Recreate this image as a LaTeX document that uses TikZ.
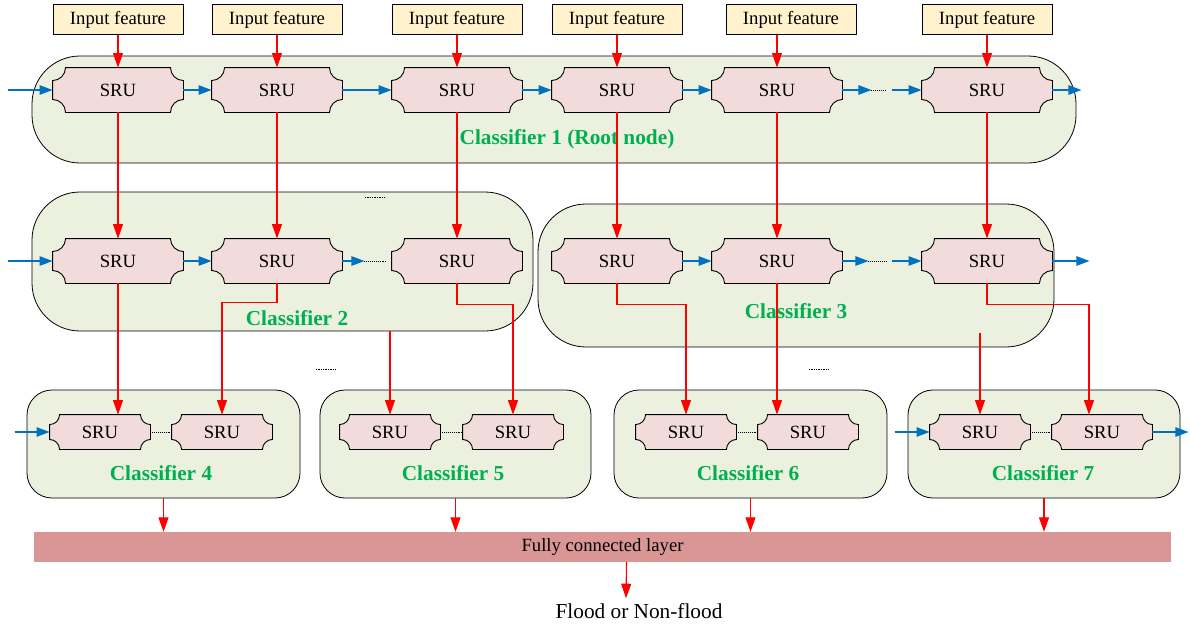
\documentclass[tikz,border=0pt]{standalone}
\usepackage{fontspec}
\setmainfont{Liberation Serif}
\usepackage{tikz}
\usetikzlibrary{arrows.meta}
\usetikzlibrary{calc}
\usepackage{xcolor}

\definecolor{inputfill}{HTML}{FFF2CC}
\definecolor{srufill}{HTML}{F2DCDB}
\definecolor{clffill}{HTML}{EBF1DE}
\definecolor{fcfill}{HTML}{D99694}
\definecolor{clfgreen}{HTML}{00B050}
\definecolor{flowblue}{HTML}{0070C0}

% SRU box: rectangle with concave corners
\makeatletter
\pgfkeys{/pgf/plaque radius/.initial=13pt}
\pgfdeclareshape{plaque}{
  \inheritsavedanchors[from=rectangle]
  \savedmacro\plaquer{\edef\plaquer{\pgfkeysvalueof{/pgf/plaque radius}}}
  \inheritanchorborder[from=rectangle]
  \inheritanchor[from=rectangle]{center}
  \inheritanchor[from=rectangle]{text}
  \inheritanchor[from=rectangle]{mid}
  \inheritanchor[from=rectangle]{base}
  \inheritanchor[from=rectangle]{north}
  \inheritanchor[from=rectangle]{south}
  \inheritanchor[from=rectangle]{east}
  \inheritanchor[from=rectangle]{west}
  \inheritanchor[from=rectangle]{north east}
  \inheritanchor[from=rectangle]{north west}
  \inheritanchor[from=rectangle]{south east}
  \inheritanchor[from=rectangle]{south west}
  \backgroundpath{
    \southwest \pgf@xa=\pgf@x \pgf@ya=\pgf@y
    \northeast \pgf@xb=\pgf@x \pgf@yb=\pgf@y
    \pgfmathsetlength\pgf@xc{\plaquer}
    \edef\plqxa{\the\pgf@xa}\edef\plqya{\the\pgf@ya}
    \edef\plqxb{\the\pgf@xb}\edef\plqyb{\the\pgf@yb}
    \edef\plqr{\the\pgf@xc}
    \pgfpathmoveto{\pgfpoint{\plqxa+\plqr}{\plqyb}}
    \pgfpathlineto{\pgfpoint{\plqxb-\plqr}{\plqyb}}
    \pgfpatharc{180}{270}{\plqr}
    \pgfpathlineto{\pgfpoint{\plqxb}{\plqya+\plqr}}
    \pgfpatharc{90}{180}{\plqr}
    \pgfpathlineto{\pgfpoint{\plqxa+\plqr}{\plqya}}
    \pgfpatharc{0}{90}{\plqr}
    \pgfpathlineto{\pgfpoint{\plqxa}{\plqyb-\plqr}}
    \pgfpatharc{270}{360}{\plqr}
    \pgfpathclose
  }
}
\makeatother

\tikzset{
  % Common styles for the network
  infeat/.style={draw, line width=0.9pt, fill=inputfill, minimum width=130pt, minimum height=30pt, inner sep=0pt},
  sru/.style={shape=plaque, draw, line width=0.9pt, fill=srufill, minimum width=130pt, minimum height=44pt, inner sep=0pt},
  smallsru/.style={sru, minimum width=100pt, minimum height=34pt, plaque radius=10pt},
  clf/.style={draw, line width=0.8pt, fill=clffill, inner sep=0pt, rounded corners=#1},
  clflabel/.style={text=clfgreen, font=\fontsize{21.3}{24}\selectfont\bfseries},
  redarr/.style={draw=red, line width=1.1pt, -{Triangle[length=14.5pt,width=10pt]}},
  bluearr/.style={draw=flowblue, line width=1.1pt, -{Triangle[length=13pt,width=9.5pt]}},
  dotgap/.style={densely dotted, line width=0.9pt}
}

\begin{document}
\begin{tikzpicture}[x=1pt, y=-1pt, font=\fontsize{18.7}{22}\selectfont]
    \useasboundingbox (0,0) rectangle (1190,630);

    % Classifier containers
    \node [clf=48pt, minimum width=1044pt, minimum height=107pt] (clf1) at (554,109.5) {};
    \node [clf=48pt, minimum width=501pt, minimum height=139pt] (clf2) at (282.5,261.5) {};
    \node [clf=48pt, minimum width=516pt, minimum height=143pt] (clf3) at (796,275.5) {};
    \node [clf=25pt, minimum width=273pt, minimum height=108pt] (clf4) at (163.5,444) {};
    \node [clf=25pt, minimum width=271pt, minimum height=108pt] (clf5) at (455.5,444) {};
    \node [clf=25pt, minimum width=273pt, minimum height=108pt] (clf6) at (750.5,444) {};
    \node [clf=25pt, minimum width=272pt, minimum height=108pt] (clf7) at (1044,444) {};

    \node [clflabel] at (567,139) {Classifier 1 (Root node)};
    \node [clflabel] at (297,318) {Classifier 2};
    \node [clflabel] at (796,311) {Classifier 3};
    \node [clflabel] at (161,473) {Classifier 4};
    \node [clflabel] at (453,473) {Classifier 5};
    \node [clflabel] at (748,473) {Classifier 6};
    \node [clflabel] at (1043,473) {Classifier 7};

    % Input features
    \node [infeat] (in1) at (118,19.5) {Input feature};
    \node [infeat] (in2) at (277,19.5) {Input feature};
    \node [infeat] (in3) at (457,19.5) {Input feature};
    \node [infeat] (in4) at (617,19.5) {Input feature};
    \node [infeat] (in5) at (791,19.5) {Input feature};
    \node [infeat] (in6) at (987,19.5) {Input feature};

    % SRU cells
    \node [sru] (s11) at (118,90) {SRU};
    \node [sru] (s12) at (277,90) {SRU};
    \node [sru] (s13) at (457,90) {SRU};
    \node [sru] (s14) at (617,90) {SRU};
    \node [sru] (s15) at (777,90) {SRU};
    \node [sru] (s16) at (987,90) {SRU};

    \node [sru] (s21) at (118,261) {SRU};
    \node [sru] (s22) at (277,261) {SRU};
    \node [sru] (s23) at (457,261) {SRU};
    \node [sru] (s24) at (617,261) {SRU};
    \node [sru] (s25) at (777,261) {SRU};
    \node [sru] (s26) at (987,261) {SRU};

    \node [smallsru] (s41) at (100,432) {SRU};
    \node [smallsru] (s42) at (222,432) {SRU};
    \node [smallsru] (s51) at (390,432) {SRU};
    \node [smallsru] (s52) at (513,432) {SRU};
    \node [smallsru] (s61) at (686,432) {SRU};
    \node [smallsru] (s62) at (808,432) {SRU};
    \node [smallsru] (s71) at (980,432) {SRU};
    \node [smallsru] (s72) at (1102,432) {SRU};

    \node [fill=fcfill, minimum width=1137pt, minimum height=30pt, inner sep=0pt] (fc) at (602.5,547) {Fully connected layer};
    \node [font=\fontsize{21.3}{24}\selectfont, inner sep=1pt] (out) at (639,611) {Flood or Non-flood};

    % Input features to first row
    \draw [redarr] (in1) -- (s11);
    \draw [redarr] (in2) -- (s12);
    \draw [redarr] (in3) -- (s13);
    \draw [redarr] (in4) -- (s14);
    \draw [redarr] (in5.south -| s15) -- (s15.north);
    \draw [redarr] (in6) -- (s16);

    % First row to second row
    \foreach \k in {1,...,6}
        \draw [redarr] (s1\k) -- (s2\k);

    % Second row to leaf classifiers
    \draw [redarr] (s21.south) -- (s21.south |- s41.north);
    \draw [redarr] (s22.south) -- ++(0,19) -| (s42.north);
    \draw [redarr] (clf2.south -| s51.north) -- (s51.north);
    \draw [redarr] (s23.south) -- ++(0,21) -| (s52.north);
    \draw [redarr] (s24.south) -- ++(0,21) -| (s61.north);
    \draw [redarr] (s25.south) -- (s25.south |- s62.north);
    \coordinate (c7) at ($(clf3.south -| s71.north)+(0,-14)$);
    \draw [redarr] (c7) -- (s71.north);
    \draw [redarr] (s26.south) -- ++(0,21) -| ($(s72.north)+(-13,0)$);

    % Leaf classifiers to output
    \foreach \k in {4,...,7}
        \draw [redarr] (clf\k.south) -- (clf\k.south |- fc.north);
    \draw [redarr] ($(fc.south)+(24,0)$) -- ($(out.north)+(-13,-4)$);

    % Recurrent links, first row
    \draw [bluearr] ($(s11.west)+(-45,0)$) -- (s11.west);
    \draw [bluearr] (s11) -- (s12);
    \draw [bluearr] (s12) -- (s13);
    \draw [bluearr] (s13) -- (s14);
    \draw [bluearr] (s14) -- (s15);
    \draw [bluearr] (s15.east) -- ++(29,0) coordinate (g1);
    \draw [dotgap] (g1) -- ++(15,0);
    \draw [bluearr] ($(s16.west)+(-30,0)$) -- (s16.west);
    \draw [bluearr] (s16.east) -- ++(29,0);

    % Recurrent links, second row
    \draw [bluearr] ($(s21.west)+(-45,0)$) -- (s21.west);
    \draw [bluearr] (s21) -- (s22);
    \draw [bluearr] (s22.east) -- ++(22,0) coordinate (g2);
    \draw [dotgap] (g2) -- ++(21,0);
    \draw [bluearr] (s24) -- (s25);
    \draw [bluearr] (s25.east) -- ++(26,0) coordinate (g3);
    \draw [dotgap] (g3) -- ++(18,0);
    \draw [bluearr] ($(s26.west)+(-30,0)$) -- (s26.west);
    \draw [bluearr] (s26.east) -- ++(37,0);

    % Leaf rows
    \draw [bluearr] ($(s41.west)+(-35,0)$) -- (s41.west);
    \draw [dotgap] (s41.east) -- (s42.west);
    \draw [dotgap] (s51.east) -- (s52.west);
    \draw [dotgap] (s61.east) -- (s62.west);
    \draw [bluearr] ($(s71.west)+(-35,0)$) -- (s71.west);
    \draw [dotgap] (s71.east) -- (s72.west);
    \draw [bluearr] (s72.east) -- ++(36,0);

    % Omitted branches
    \draw [dotgap, line width=0.7pt] (365,197) -- (385,197);
    \draw [dotgap, line width=0.7pt] (316,369) -- (336,369);
    \draw [dotgap, line width=0.7pt] (809,369) -- (829,369);
\end{tikzpicture}
\end{document}
